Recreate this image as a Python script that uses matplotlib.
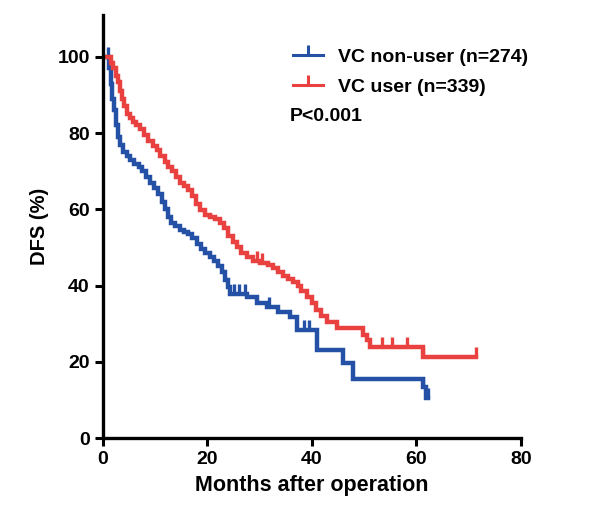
import numpy as np
import matplotlib
matplotlib.use("Agg")
import matplotlib.pyplot as plt
from matplotlib.lines import Line2D

plt.rcParams['font.family'] = ['Liberation Sans', 'DejaVu Sans']
plt.rcParams['font.weight'] = 'bold'

# Kaplan-Meier step knots (months, DFS %)
non_user_t = [0, 1.0, 1.2, 1.5, 1.8, 2.1, 2.5, 2.9, 3.3, 3.8, 4.5, 5.2, 6.0, 6.8,
              7.5, 8.2, 9.0, 9.8, 10.5, 11.2, 11.8, 12.4, 13.0, 13.8, 14.7, 15.5,
              16.2, 17.0, 18.0, 18.8, 19.6, 20.4, 21.2, 22.0, 22.8, 23.4, 24.0,
              24.4, 27.6, 29.5, 31.4, 33.5, 35.8, 37.1, 41.0, 46.0, 47.8, 61.2,
              61.8]
non_user_s = [100, 100, 97, 93, 89, 86, 82, 79, 77, 75, 74, 73, 72, 71,
              70, 68.5, 67, 65.5, 64, 62, 60, 58, 56.5, 55.5, 54.5, 54,
              53.5, 52.5, 51, 49.5, 48.5, 47.5, 46.5, 45, 43.5, 41.5, 39.5,
              37.8, 37, 35.5, 34.3, 33, 31.7, 28.3, 23, 19.6, 15.5, 13.5,
              10.5]
non_user_end = 62.3
non_user_cens = [1.0, 25.0, 26.0, 27.2, 31.8, 38.4, 39.4, 61.3, 62.3]

user_t = [0, 1.3, 1.6, 2.0, 2.4, 2.8, 3.2, 3.6, 4.0, 4.6, 5.2, 5.8, 6.4, 7.0,
          7.8, 8.6, 9.5, 10.3, 11.0, 11.8, 12.5, 13.3, 14.0, 14.8, 15.5, 16.2,
          17.0, 17.8, 18.6, 19.5, 20.5, 21.5, 22.4, 23.2, 24.0, 24.8, 25.6,
          26.5, 27.5, 28.7, 30.0, 31.5, 32.5, 33.5, 34.5, 35.5, 36.4, 37.3,
          38.0, 39.0, 40.0, 40.8, 41.8, 42.9, 44.8, 49.8, 50.5, 51.1, 61.2]
user_s = [100, 100, 98.5, 97, 95, 93.5, 91, 89, 87, 85, 84, 83, 82, 81,
          79.5, 78, 76.5, 75.5, 74, 72.5, 71, 70, 68.5, 67, 66, 65,
          63.5, 61.5, 59.7, 58.5, 58, 57.5, 56.5, 55, 53, 51.5, 50,
          48.5, 47.5, 46.5, 46, 45.5, 44.5, 43.5, 42.5, 41.8, 41, 40,
          38.5, 37, 35.5, 33.5, 32, 30.5, 28.8, 27, 25.7, 23.9, 21.3]
user_end = 71.4
user_cens = [29.4, 30.4, 53.4, 55.3, 58.2, 61.2, 71.4]

labels = ['VC non-user (n=274)', 'VC user (n=339)']
colors = ['#2451a6', '#e8413f']

fig = plt.figure(figsize=(6, 5.15), dpi=100)
ax = fig.add_axes([0.1717, 0.1495, 0.6963, 0.8215])

series = [(non_user_t, non_user_s, non_user_end, non_user_cens),
          (user_t, user_s, user_end, user_cens)]
for (t, s, end, cens), c in zip(series, colors):
    tt = np.append(t, end)
    ss = np.append(s, s[-1])
    ax.plot(tt, ss, drawstyle='steps-post', color=c, lw=3.2,
            solid_joinstyle='miter')
    idx = np.searchsorted(t, cens, side='right') - 1
    ax.plot(cens, np.array(s)[idx], ls='none', marker=2, ms=7, mew=2.4,
            color=c)

ax.set_xlim(0, 80)
ax.set_ylim(0, 111)
ax.set_xticks([0, 20, 40, 60, 80])
ax.set_yticks([0, 20, 40, 60, 80, 100])
for sp in ['top', 'right']:
    ax.spines[sp].set_visible(False)
for sp in ['left', 'bottom']:
    ax.spines[sp].set_linewidth(2.4)
ax.tick_params(width=2.2, length=6, labelsize=14)
ax.set_xlabel('Months after operation', fontsize=15.5, fontweight='bold',
              labelpad=5)
ax.set_ylabel('DFS (%)', fontsize=14.5, fontweight='bold', labelpad=6)

handles = [Line2D([0], [0], color=c, lw=2.2, marker=2, ms=7, mew=2.2)
           for c in colors]
ax.legend(handles, labels, loc='upper left', bbox_to_anchor=(0.435, 0.94),
          frameon=False, fontsize=14, handlelength=1.55, handletextpad=0.77,
          labelspacing=0.66, borderaxespad=0)
ax.text(0.447, 0.761, 'P<0.001', transform=ax.transAxes, fontsize=14,
        fontweight='bold', va='center')

fig.savefig('out.png', dpi=100)
